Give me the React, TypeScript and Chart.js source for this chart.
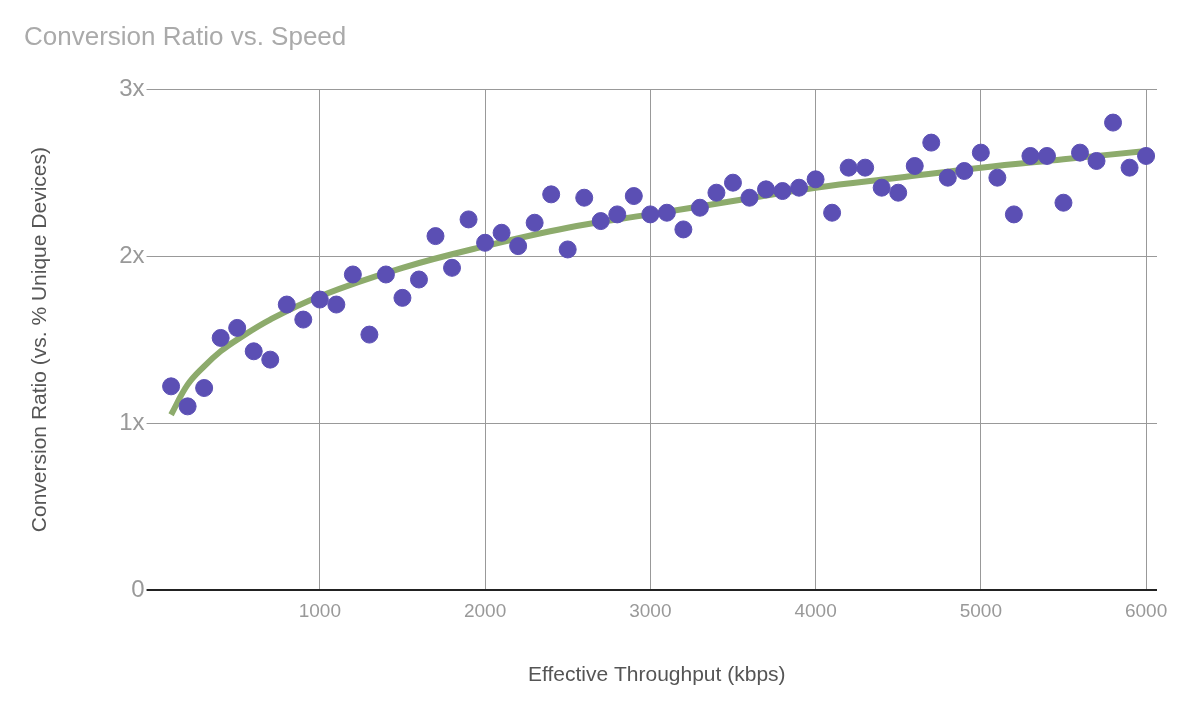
import React, { useEffect, useRef } from "react";
import { Chart, registerables } from "chart.js";
Chart.register(...registerables);

const throughput = Array.from({ length: 60 }, (_, i) => (i + 1) * 100);
const ratios = [
  1.22, 1.1, 1.21, 1.51, 1.57, 1.43, 1.38, 1.71, 1.62, 1.74,
  1.71, 1.89, 1.53, 1.89, 1.75, 1.86, 2.12, 1.93, 2.22, 2.08,
  2.14, 2.06, 2.2, 2.37, 2.04, 2.35, 2.21, 2.25, 2.36, 2.25,
  2.26, 2.16, 2.29, 2.38, 2.44, 2.35, 2.4, 2.39, 2.41, 2.46,
  2.26, 2.53, 2.53, 2.41, 2.38, 2.54, 2.68, 2.47, 2.51, 2.62,
  2.47, 2.25, 2.6, 2.6, 2.32, 2.62, 2.57, 2.8, 2.53, 2.6,
];
const trendX = [100, 200, 300, 400, 500, 700, 1000, 1500, 2000, 2500, 3000, 3500, 4000, 4500, 5000, 5500, 6000];
const trendY = [1.05, 1.23, 1.34, 1.43, 1.5, 1.62, 1.76, 1.93, 2.06, 2.17, 2.25, 2.33, 2.41, 2.47, 2.53, 2.58, 2.63];
const xTicks = [1000, 2000, 3000, 4000, 5000, 6000];

const FONT = "'Liberation Sans', Arial, sans-serif";

export default function App() {
  const ref = useRef<HTMLCanvasElement>(null);
  useEffect(() => {
    const chart = new Chart(ref.current!, {
      type: "scatter",
      data: {
        datasets: [
          {
            type: "line",
            data: trendX.map((x, i) => ({ x, y: trendY[i] })),
            borderColor: "#8dab6c",
            borderWidth: 6,
            pointRadius: 0,
            tension: 0.4,
            order: 2,
          } as any,
          {
            data: throughput.map((x, i) => ({ x, y: ratios[i] })),
            backgroundColor: "#5b4fb4",
            borderColor: "#5b4fb4",
            pointRadius: 8.5,
            order: 1,
          },
        ],
      },
      options: {
        animation: false,
        responsive: false,
        layout: { padding: { left: 24, right: 43, top: 10, bottom: 22 } },
        plugins: {
          legend: { display: false },
          tooltip: { enabled: false },
          title: {
            display: true,
            text: "Conversion Ratio vs. Speed",
            align: "start",
            color: "#aaaaaa",
            font: { family: FONT, size: 26, weight: "normal" },
            padding: { top: 12, bottom: 36 },
          },
        },
        scales: {
          x: {
            type: "linear",
            min: 12,
            max: 6066,
            afterBuildTicks: (ax: any) => {
              ax.ticks = xTicks.map((v) => ({ value: v }));
            },
            grid: { color: "#999", lineWidth: 1, drawTicks: false },
            border: { display: false },
            ticks: {
              color: "#999",
              font: { family: FONT, size: 19 },
              padding: 10,
              callback: (v: any) => String(v),
            },
            title: {
              display: true,
              text: "Effective Throughput (kbps)",
              color: "#555",
              font: { family: FONT, size: 21 },
              padding: { top: 30 },
            },
          },
          y: {
            min: 0,
            max: 3,
            ticks: {
              stepSize: 1,
              color: "#999",
              font: { family: FONT, size: 24 },
              padding: 2,
              callback: (v: any) => (v === 0 ? "0" : v + "x"),
            },
            grid: {
              color: (c: any) => (c.tick && c.tick.value === 0 ? "#222" : "#999"),
              lineWidth: (c: any) => (c.tick && c.tick.value === 0 ? 2 : 1),
              tickLength: 10,
            },
            border: { display: false },
            title: {
              display: true,
              text: "Conversion Ratio (vs. % Unique Devices)",
              color: "#555",
              font: { family: FONT, size: 21 },
              padding: { bottom: 64 },
            },
          },
        },
      },
    });
    return () => chart.destroy();
  }, []);
  return (
    <div style={{ position: "absolute", left: 0, top: 0, width: 1200, height: 714, background: "#fff" }}>
      <canvas ref={ref} width={1200} height={714} />
    </div>
  );
}
